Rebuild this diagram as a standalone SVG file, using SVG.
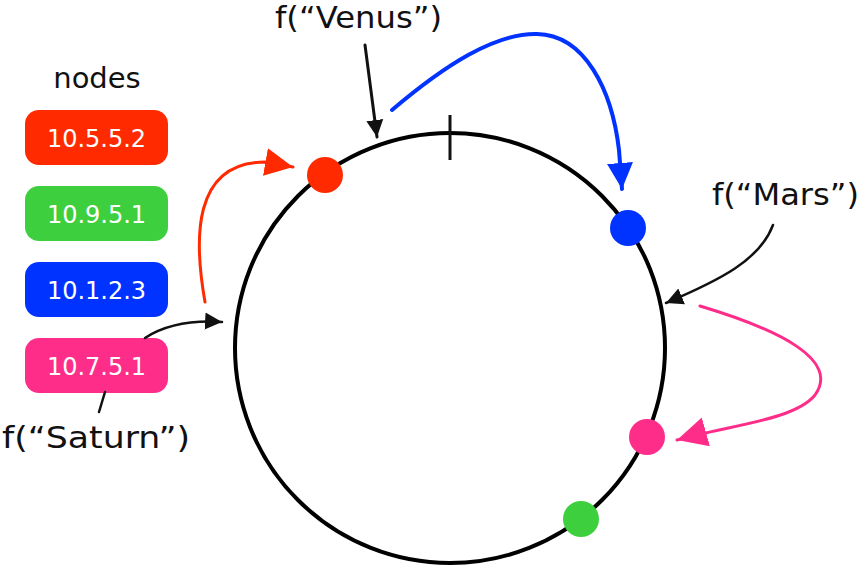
<svg xmlns="http://www.w3.org/2000/svg" width="861" height="568" viewBox="0 0 861 568">
<style>
.hand{font-family:"DejaVu Sans","Noto Sans",sans-serif;fill:#111;}
.lbl{font-family:"DejaVu Sans",Verdana,sans-serif;font-size:24px;fill:#fff;text-anchor:middle;}
.conn{fill:none;stroke-linecap:round;}
</style>
<defs>
<marker id="aRed" viewBox="0 0 10 10" refX="10" refY="5" markerUnits="userSpaceOnUse" markerWidth="28" markerHeight="30" orient="auto"><path d="M0,0 L10,5 L0,10 z" fill="#ff2a00"/></marker>
<marker id="aBlue" viewBox="0 0 10 10" refX="10" refY="5" markerUnits="userSpaceOnUse" markerWidth="26" markerHeight="32" orient="auto"><path d="M0,0 L10,5 L0,10 z" fill="#0033ff"/></marker>
<marker id="aPink" viewBox="0 0 10 10" refX="10" refY="5" markerUnits="userSpaceOnUse" markerWidth="30" markerHeight="30" orient="auto"><path d="M0,0 L10,5 L0,10 z" fill="#ff2d8a"/></marker>
<marker id="aBlk" viewBox="0 0 10 10" refX="10" refY="5" markerUnits="userSpaceOnUse" markerWidth="17" markerHeight="20" orient="auto"><path d="M0,0 L10,5 L0,10 z" fill="#111"/></marker>
</defs>

<g id="ring">
<circle cx="450" cy="348" r="215" fill="none" stroke="#000" stroke-width="4"/>
<line x1="450" y1="115" x2="450" y2="160" stroke="#111" stroke-width="3"/>
</g>

<g id="legend-title"><text class="hand" x="97" y="88" font-size="29" text-anchor="middle">nodes</text></g>

<g id="node-10-5-5-2"><rect x="25" y="110" width="143" height="55" rx="14" fill="#ff2a00"/><text class="lbl" x="96.5" y="147">10.5.5.2</text></g>
<g id="node-10-9-5-1"><rect x="25" y="186" width="143" height="55" rx="14" fill="#3ecf3e"/><text class="lbl" x="96.5" y="223">10.9.5.1</text></g>
<g id="node-10-1-2-3"><rect x="25" y="262" width="143" height="55" rx="14" fill="#0033ff"/><text class="lbl" x="96.5" y="299">10.1.2.3</text></g>
<g id="node-10-7-5-1"><rect x="25" y="338" width="143" height="55" rx="14" fill="#ff2d8a"/><text class="lbl" x="96.5" y="375">10.7.5.1</text></g>

<g id="dot-red"><circle cx="325" cy="175" r="18" fill="#ff2a00"/></g>
<g id="dot-blue"><circle cx="628" cy="228" r="18" fill="#0033ff"/></g>
<g id="dot-pink"><circle cx="647" cy="437" r="18" fill="#ff2d8a"/></g>
<g id="dot-green"><circle cx="581" cy="519" r="18" fill="#3ecf3e"/></g>

<g id="label-venus"><text class="hand" x="275" y="28" font-size="31" textLength="167" lengthAdjust="spacingAndGlyphs">f(“Venus”)</text></g>
<g id="label-mars"><text class="hand" x="712" y="205" font-size="31" textLength="147" lengthAdjust="spacingAndGlyphs">f(“Mars”)</text></g>
<g id="label-saturn"><text class="hand" x="2" y="448" font-size="31" textLength="188" lengthAdjust="spacingAndGlyphs">f(“Saturn”)</text></g>

<g id="connectors">
<path class="conn" d="M205,302 C 194,240 192,162 265,162 L293,167" stroke="#ff2a00" stroke-width="3" marker-end="url(#aRed)"/>
<path class="conn" d="M392,110 C 445,65 495,33 537,34 C 585,35 612,90 619,150 L622,189" stroke="#0033ff" stroke-width="4" marker-end="url(#aBlue)"/>
<path class="conn" d="M700,306 C 780,330 840,360 815,395 C 795,420 730,425 677,440" stroke="#ff2d8a" stroke-width="3" marker-end="url(#aPink)"/>
<path class="conn" d="M365,45 L377,137" stroke="#111" stroke-width="3" marker-end="url(#aBlk)"/>
<path class="conn" d="M773,225 C 760,260 720,280 666,303" stroke="#111" stroke-width="2.5" marker-end="url(#aBlk)"/>
<path class="conn" d="M145,338 C 165,325 190,320 222,322" stroke="#111" stroke-width="2.5" marker-end="url(#aBlk)"/>
<path class="conn" d="M105,392 L99,412" stroke="#111" stroke-width="2.5"/>
</g>
</svg>
